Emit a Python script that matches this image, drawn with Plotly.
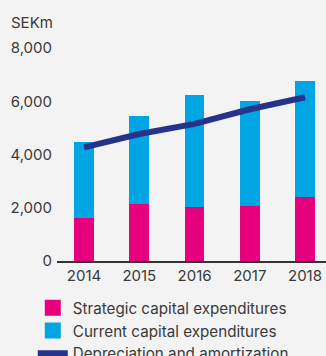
import plotly.graph_objects as go

years = ["2014", "2015", "2016", "2017", "2018"]
strategic = [1620, 2140, 2030, 2070, 2410]
total_capex = [4480, 5450, 6240, 6020, 6770]
current = [t - s for t, s in zip(total_capex, strategic)]
depreciation = [4270, 4770, 5150, 5700, 6150]

BG = "#f3f3f3"
TEXT = "#3a3a3a"
FONT = "Inter"
MAGENTA = "#e6007e"
CYAN = "#00a5e3"
NAVY = "#25338a"

fig = go.Figure()
fig.add_trace(go.Bar(
    x=years, y=strategic, name="Strategic capital expenditures",
    marker=dict(color=MAGENTA, line=dict(width=0)), width=0.36,
    legendgroup="s", showlegend=False,
))
fig.add_trace(go.Bar(
    x=years, y=current, name="Current capital expenditures",
    marker=dict(color=CYAN, line=dict(width=0)), width=0.36,
    legendgroup="c", showlegend=False,
))
# larger square swatches for the bar series in the legend
fig.add_trace(go.Scatter(
    x=[None], y=[None], mode="markers", name="Strategic capital expenditures",
    marker=dict(symbol="square", size=16, color=MAGENTA), legendgroup="s",
))
fig.add_trace(go.Scatter(
    x=[None], y=[None], mode="markers", name="Current capital expenditures",
    marker=dict(symbol="square", size=16, color=CYAN), legendgroup="c",
))
fig.add_trace(go.Scatter(
    x=years, y=depreciation, name="Depreciation and amortization",
    mode="lines", line=dict(color=NAVY, width=6),
))

fig.update_layout(
    width=326, height=356,
    barmode="stack",
    paper_bgcolor=BG, plot_bgcolor=BG,
    margin=dict(l=57, r=0, t=48, b=95, autoexpand=False),
    font=dict(family=FONT, size=15, color=TEXT),
    showlegend=True,
    legend=dict(
        orientation="v", x=-0.09, y=-0.143, xanchor="left", yanchor="top",
        bgcolor="rgba(0,0,0,0)", font=dict(size=15.2, color=TEXT),
        itemwidth=30, tracegroupgap=0, traceorder="normal",
    ),
    xaxis=dict(
        type="category", range=[-0.49, 4.38],
        showgrid=False, showline=True, linecolor="#333333", linewidth=2,
        ticks="", tickfont=dict(size=15, color=TEXT),
    ),
    yaxis=dict(
        range=[0, 8000], tickvals=[0, 2000, 4000, 6000, 8000],
        tickformat=",d", showgrid=False, zeroline=False, showline=False,
        ticks="", ticklabelstandoff=4, tickfont=dict(size=15, color=TEXT),
    ),
    annotations=[dict(
        text="SEKm", xref="paper", yref="paper", x=-0.18, y=1.12,
        xanchor="left", yanchor="middle", showarrow=False,
        font=dict(size=15, color=TEXT),
    )],
)

fig.write_html("out.html")
